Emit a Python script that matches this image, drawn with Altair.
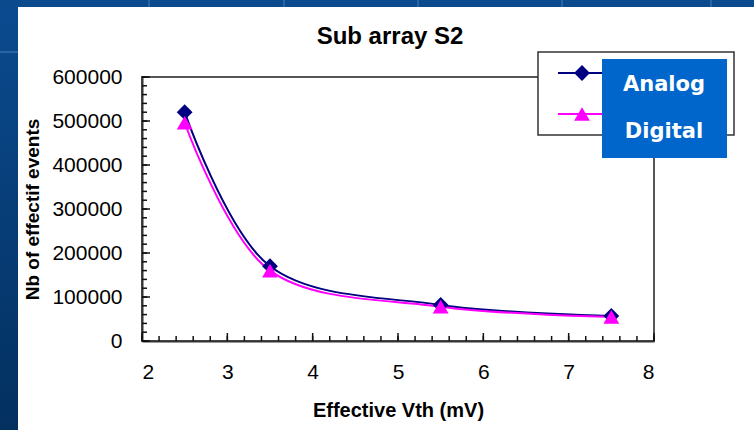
import altair as alt
import pandas as pd

# Measured event counts per effective threshold
vth = [2.5, 3.5, 5.5, 7.5]
analog = [520000, 170000, 82000, 57000]
digital = [496000, 160000, 78000, 55000]

series = ["Analog", "Digital"]
series_colors = ["#000080", "#FF00FF"]
series_shapes = ["diamond", "triangle-up"]

x_ticks = [2, 3, 4, 5, 6, 7, 8]
y_ticks = [0, 100000, 200000, 300000, 400000, 500000, 600000]
x_minor = [round(2 + 0.2 * i, 1) for i in range(31)]
y_minor = [20000 * i for i in range(31)]

W, H = 512, 264
FONT = "Liberation Sans"

df = pd.DataFrame(
    {
        "vth": vth * 2,
        "events": analog + digital,
        "series": [series[0]] * len(vth) + [series[1]] * len(vth),
    }
)
one = pd.DataFrame({"k": [0]})

xscale = alt.Scale(domain=[2, 8], nice=False, zero=False)
yscale = alt.Scale(domain=[0, 600000], nice=False)
cscale = alt.Scale(domain=series, range=series_colors)
sscale = alt.Scale(domain=series, range=series_shapes)

base = alt.Chart(df)

x_enc = alt.X(
    "vth:Q",
    scale=xscale,
    axis=alt.Axis(
        values=x_ticks,
        format="d",
        ticks=False,
        grid=False,
        labelFont=FONT,
        labelFontSize=21,
        labelColor="black",
        labelPadding=20,
        domainColor="#333333",
        domainWidth=2,
        title="Effective Vth (mV)",
        titleFont=FONT,
        titleFontSize=20,
        titleFontWeight="bold",
        titleColor="black",
        titlePadding=18,
    ),
)
y_enc = alt.Y(
    "events:Q",
    scale=yscale,
    axis=alt.Axis(
        values=y_ticks,
        format="d",
        ticks=False,
        grid=False,
        labelFont=FONT,
        labelFontSize=21,
        labelColor="black",
        labelPadding=20,
        domainColor="#333333",
        domainWidth=2,
        title="Nb of effectif events",
        titleFont=FONT,
        titleFontSize=19,
        titleFontWeight="bold",
        titleColor="black",
        titlePadding=9,
    ),
)

lines = base.mark_line(interpolate="cardinal", strokeWidth=2).encode(
    x=x_enc,
    y=y_enc,
    color=alt.Color("series:N", scale=cscale, legend=None),
)
points = base.mark_point(filled=True, opacity=1, size=250).encode(
    x=alt.X("vth:Q", scale=xscale),
    y=alt.Y("events:Q", scale=yscale),
    color=alt.Color("series:N", scale=cscale, legend=None),
    shape=alt.Shape("series:N", scale=sscale, legend=None),
)


# Inward tick marks along both axes
def x_tick_layer(vals, length):
    return alt.Chart(pd.DataFrame({"xt": vals})).mark_rule(
        color="#111111", strokeWidth=1.5
    ).encode(
        x=alt.X("xt:Q", scale=xscale),
        y=alt.value(H),
        y2=alt.value(H - length),
    )


def y_tick_layer(vals, length):
    return alt.Chart(pd.DataFrame({"yt": vals})).mark_rule(
        color="#111111", strokeWidth=1.5
    ).encode(
        y=alt.Y("yt:Q", scale=yscale),
        x=alt.value(0),
        x2=alt.value(length),
    )


ticks = [
    x_tick_layer(x_minor, 5),
    x_tick_layer(x_ticks, 8),
    y_tick_layer(y_minor, 5),
    y_tick_layer(y_ticks, 8),
]

# Slide border strips
blue_grad = alt.LinearGradient(
    gradient="linear",
    stops=[
        alt.GradientStop(color="#0b4b90", offset=0),
        alt.GradientStop(color="#03305f", offset=1),
    ],
    x1=0, x2=0, y1=0, y2=1,
)
left_strip = alt.Chart(one).mark_rect(fill=blue_grad).encode(
    x=alt.value(-142), x2=alt.value(-124), y=alt.value(-77), y2=alt.value(353)
)
top_strip = alt.Chart(one).mark_rect(fill="#0a4a8d").encode(
    x=alt.value(-142), x2=alt.value(612), y=alt.value(-77), y2=alt.value(-70)
)
strip_lines = [
    alt.Chart(one).mark_rule(color="#2a62a6", strokeWidth=2).encode(
        x=alt.value(px), y=alt.value(-77), y2=alt.value(-70)
    )
    for px in [7, 142, 276, 420, 569]
] + [
    alt.Chart(one).mark_rule(color="#2a62a6", strokeWidth=2).encode(
        x=alt.value(-142), x2=alt.value(-124), y=alt.value(-25)
    )
]

title = alt.Chart(one).mark_text(
    text="Sub array S2",
    font=FONT,
    fontSize=24,
    fontWeight="bold",
    color="black",
    baseline="middle",
    align="center",
).encode(x=alt.value(248), y=alt.value(-40))

# Legend box with line+marker samples
legend_box = alt.Chart(one).mark_rect(
    fill="white", stroke="#333333", strokeWidth=1.5
).encode(x=alt.value(396), x2=alt.value(592), y=alt.value(-25), y2=alt.value(58))

legend_items = []
for name, color, shape, ly in zip(series, series_colors, series_shapes, [-4, 37]):
    legend_items.append(
        alt.Chart(one).mark_rule(color=color, strokeWidth=2).encode(
            x=alt.value(416), x2=alt.value(466), y=alt.value(ly)
        )
    )
    legend_items.append(
        alt.Chart(one).mark_point(
            shape=shape, filled=True, opacity=1, size=250, color=color
        ).encode(x=alt.value(440), y=alt.value(ly))
    )

label_box = alt.Chart(one).mark_rect(fill="#0066CC").encode(
    x=alt.value(460), x2=alt.value(585), y=alt.value(-18), y2=alt.value(81)
)
label_texts = [
    alt.Chart(one).mark_text(
        text=name,
        font="DejaVu Sans",
        fontSize=21,
        fontWeight="bold",
        color="white",
        align="center",
        baseline="middle",
    ).encode(x=alt.value(522), y=alt.value(ly))
    for name, ly in zip(series, [8, 55])
]

chart = (
    alt.layer(
        lines,
        *ticks,
        points,
        left_strip,
        top_strip,
        *strip_lines,
        title,
        legend_box,
        *legend_items,
        label_box,
        *label_texts,
    )
    .properties(
        width=W,
        height=H,
        autosize=alt.AutoSizeParams(type="none"),
        padding={"left": 142, "top": 77, "right": 100, "bottom": 89},
        background="white",
    )
    .configure_view(stroke="#555555", strokeWidth=2)
)

chart.save("out.html", embed_options={"renderer": "svg", "actions": False})
